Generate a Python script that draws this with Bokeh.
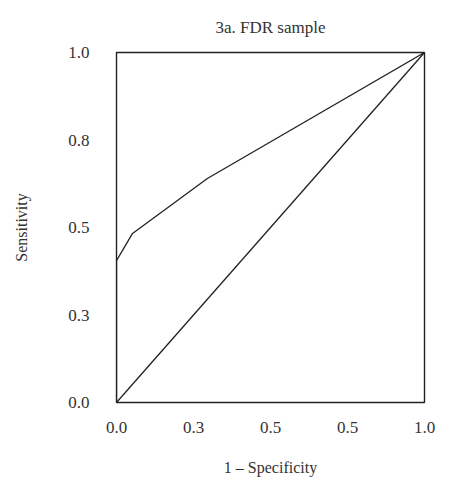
from bokeh.plotting import figure
from bokeh.models import Range1d, FixedTicker
from bokeh.embed import file_html
from bokeh.resources import INLINE

# ROC curve for the FDR sample
fpr = [0.0, 0.0, 0.052, 0.295, 1.0]
tpr = [0.0, 0.405, 0.483, 0.64, 1.0]
chance_x = [0.0, 1.0]
chance_y = [0.0, 1.0]

tick_values = [0.0, 0.25, 0.5, 0.75, 1.0]
x_tick_labels = ["0.0", "0.3", "0.5", "0.5", "1.0"]
y_tick_labels = ["0.0", "0.3", "0.5", "0.8", "1.0"]

FONT = "Liberation Serif"
TEXT = "#333333"
INK = "#222222"

p = figure(width=475, height=482, output_backend="svg", toolbar_location=None,
           x_range=Range1d(0, 1), y_range=Range1d(0, 1),
           title="3a. FDR sample",
           min_border_left=116, min_border_right=51,
           min_border_top=52, min_border_bottom=80)

p.title.align = "center"
p.title.text_font = FONT
p.title.text_font_size = "17px"
p.title.text_font_style = "normal"
p.title.text_color = TEXT
p.title.offset = 0
p.title.standoff = 31

p.line(fpr, tpr, line_color=INK, line_width=1.3)
p.line(chance_x, chance_y, line_color=INK, line_width=1.3)

p.outline_line_color = INK
p.outline_line_width = 1.4
p.grid.visible = False
p.background_fill_color = "white"
p.border_fill_color = "white"

for ax, labels in ((p.xaxis, x_tick_labels), (p.yaxis, y_tick_labels)):
    ax.ticker = FixedTicker(ticks=tick_values)
    ax.major_label_overrides = {v: l for v, l in zip(tick_values, labels)}
    ax.axis_line_color = None
    ax.major_tick_line_color = None
    ax.minor_tick_line_color = None
    ax.major_tick_out = 0
    ax.major_tick_in = 0
    ax.major_label_text_font = FONT
    ax.major_label_text_font_size = "17px"
    ax.major_label_text_color = TEXT
    ax.axis_label_text_font = FONT
    ax.axis_label_text_font_size = "16px"
    ax.axis_label_text_font_style = "normal"
    ax.axis_label_text_color = TEXT

p.xaxis.axis_label = "1 \u2013 Specificity"
p.yaxis.axis_label = "Sensitivity"
p.xaxis.major_label_standoff = 19
p.yaxis.major_label_standoff = 27
p.xaxis.axis_label_standoff = 23
p.yaxis.axis_label_standoff = 35

open("out.html", "w").write(file_html(p, INLINE))
